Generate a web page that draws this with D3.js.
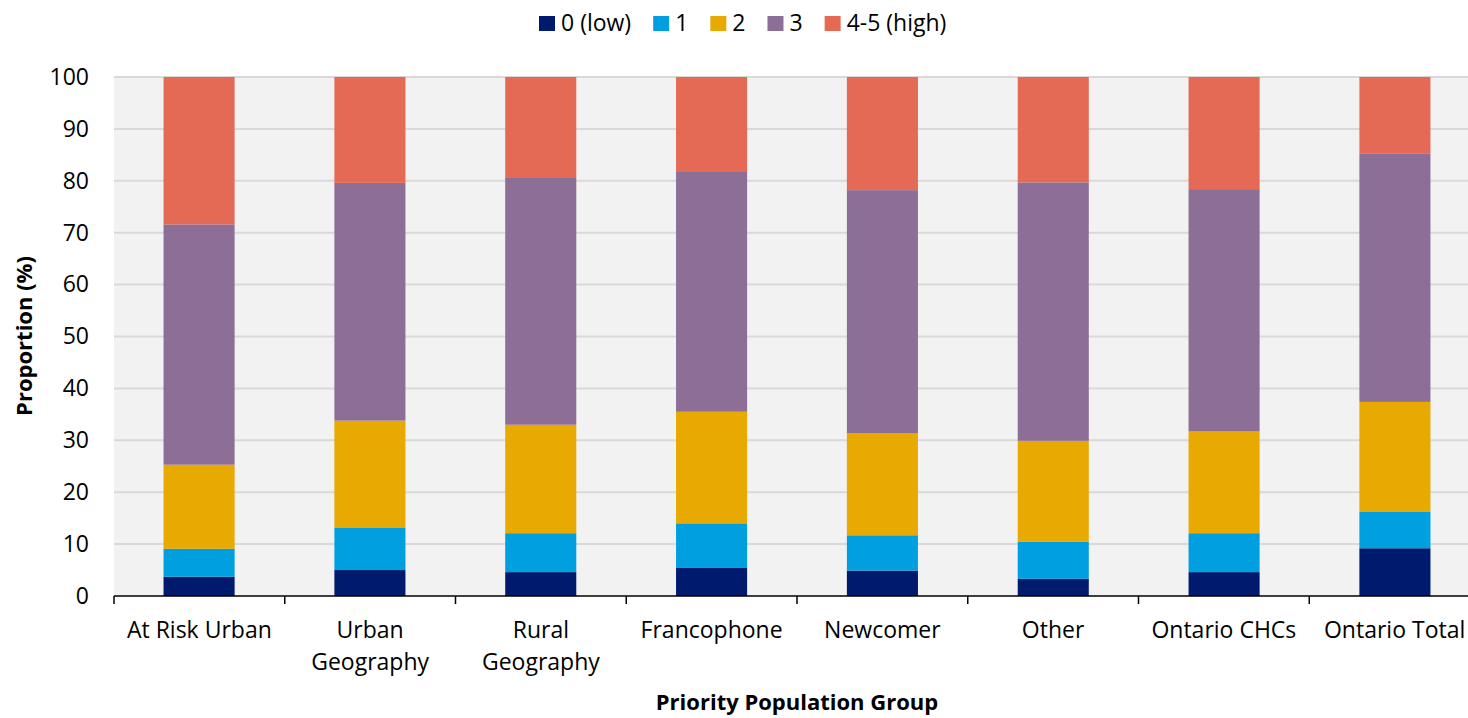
<!DOCTYPE html>
<html><head><meta charset="utf-8">
<script src="https://cdn.jsdelivr.net/npm/d3@7"></script>
<style>body{margin:0;background:#fff;} text{font-family:"Open Sans",Lato,sans-serif;}</style>
</head><body>
<svg id="chart" width="1468" height="718"></svg>
<script>
const categories = [["At Risk Urban"],["Urban","Geography"],["Rural","Geography"],["Francophone"],["Newcomer"],["Other"],["Ontario CHCs"],["Ontario Total"]];
const seriesNames = ["0 (low)","1","2","3","4-5 (high)"];
const colors = ["#001a6e","#009fdf","#e8a900","#8d6e97","#e56a55"];
const s0 = [3.7,5.0,4.6,5.4,4.9,3.3,4.6,9.2];
const s1 = [5.4,8.1,7.5,8.6,6.8,7.2,7.5,7.1];
const s2 = [16.2,20.7,20.9,21.5,19.7,19.4,19.6,21.1];
const s3 = [46.3,45.8,47.7,46.2,46.8,49.8,46.7,47.8];
const s4 = [28.4,20.4,19.3,18.3,21.8,20.3,21.6,14.8];
const yTicks = [0,10,20,30,40,50,60,70,80,90,100];

const svg = d3.select("#chart");
const m = {l:114, r:1480, t:77, b:596};
const keys = categories.map(c=>c.join(" "));
const x = d3.scaleBand().domain(keys).range([m.l,m.r]).paddingInner(0.584).paddingOuter(0.29);
const xb = d3.scaleBand().domain(keys).range([m.l,m.r]);
const y = d3.scaleLinear().domain([0,100]).range([m.b,m.t]);

svg.append("rect").attr("x",m.l).attr("y",m.t).attr("width",m.r-m.l).attr("height",m.b-m.t).attr("fill","#f2f2f2");
svg.append("g").selectAll("line").data(yTicks.slice(1)).join("line")
  .attr("x1",m.l).attr("x2",m.r).attr("y1",d=>y(d)).attr("y2",d=>y(d))
  .attr("stroke","#d9d9d9").attr("stroke-width",2);

const data = keys.map((k,i)=>({key:k, v0:s0[i], v1:s1[i], v2:s2[i], v3:s3[i], v4:s4[i]}));
const stack = d3.stack().keys(["v0","v1","v2","v3","v4"])(data);
svg.append("g").selectAll("g").data(stack).join("g").attr("fill",(d,i)=>colors[i])
  .selectAll("rect").data(d=>d).join("rect")
  .attr("x",d=>x(d.data.key)).attr("width",x.bandwidth())
  .attr("y",d=>y(d[1])).attr("height",d=>y(d[0])-y(d[1]));

// y axis labels
const ya = svg.append("g").attr("transform",`translate(${m.l},0)`).call(d3.axisLeft(y).tickValues(yTicks).tickSize(0).tickPadding(25));
ya.select(".domain").remove();
ya.selectAll("text").attr("font-size",23).attr("fill","#000").style("font-family","'Open Sans',Lato,sans-serif");

// x axis
svg.append("line").attr("x1",m.l).attr("x2",m.r).attr("y1",m.b).attr("y2",m.b).attr("stroke","#000").attr("stroke-width",1.5);
const tickXs = d3.range(keys.length+1).map(i=>m.l + i*xb.step());
svg.append("g").selectAll("line").data(tickXs).join("line")
  .attr("x1",d=>d).attr("x2",d=>d).attr("y1",m.b).attr("y2",m.b+8).attr("stroke","#000").attr("stroke-width",1.5);
const xl = svg.append("g").selectAll("text").data(categories).join("text")
  .attr("x",(d,i)=>xb(keys[i])+xb.bandwidth()/2).attr("y",638)
  .attr("text-anchor","middle").attr("font-size",23).attr("fill","#000");
xl.each(function(d){ const t=d3.select(this); d.forEach((line,j)=>t.append("tspan").attr("x",t.attr("x")).attr("dy",j?32:0).text(line)); });

// axis titles
svg.append("text").attr("x",797).attr("y",710).attr("text-anchor","middle")
  .attr("font-size",22).attr("font-weight","bold").text("Priority Population Group");
svg.append("text").attr("transform","translate(32,336) rotate(-90)").attr("text-anchor","middle")
  .attr("font-size",22).attr("font-weight","bold").text("Proportion (%)");

// legend
const lg = svg.append("g");
let lx = 539;
seriesNames.forEach((n,i)=>{
  lg.append("rect").attr("x",lx).attr("y",16).attr("width",16).attr("height",15).attr("fill",colors[i]);
  const t = lg.append("text").attr("x",lx+22).attr("y",31).attr("font-size",23).text(n);
  lx += 22 + t.node().getComputedTextLength() + 22;
});
</script>
</body></html>
